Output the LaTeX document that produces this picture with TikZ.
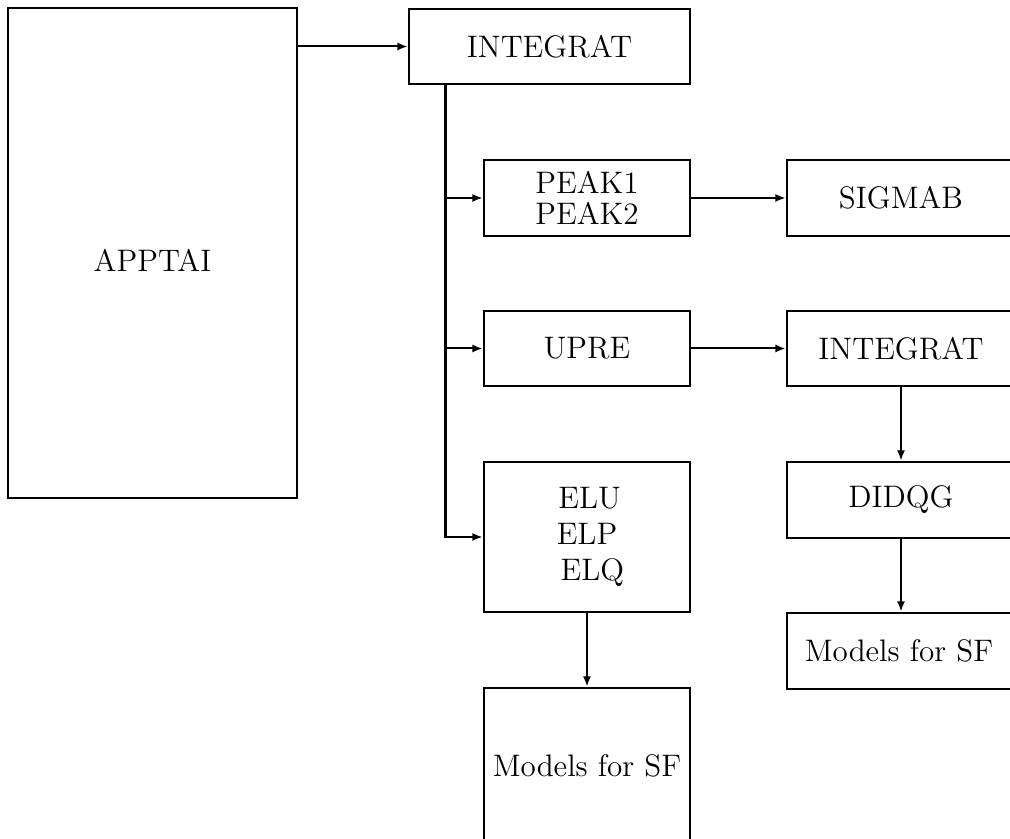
\documentclass[tikz,border=0pt]{standalone}
\usetikzlibrary{arrows.meta,calc}
\newdimen\pxu
\pxu=0.0131cm
\begin{document}
\begin{tikzpicture}[x=0.0131cm, y=-0.0131cm,
  font=\fontsize{11.6}{13.5}\selectfont,
  box/.style={draw, line width=1.0pt, rectangle, inner sep=0pt, align=center},
  arr/.style={line width=0.75pt, -{Latex[length=3.8pt,width=3pt]}},
  heavy/.style={line width=1.05pt}]
  \useasboundingbox (0,0) rectangle (1010,839);
  \clip (0,0) rectangle (1010,839);

  % left block and the main branch
  \node[box, minimum width=289\pxu, minimum height=490\pxu,
        label={[yshift=-7\pxu]center:APPTAI}] (app) at (152.5,253) {};
  \node[box, minimum width=281\pxu, minimum height=75\pxu] (int1) at (549.5,46.5) {INTEGRAT};

  % middle column
  \node[box, minimum width=206\pxu, minimum height=76\pxu] (peak) at (587,198) {PEAK1\\[-2pt]PEAK2};
  \node[box, minimum width=206\pxu, minimum height=75\pxu] (upre) at (587,348.5) {UPRE};
  \node[box, minimum width=206\pxu, minimum height=150\pxu] (elu) at (587,537) {\hspace*{2pt}ELU\\ELP\hspace*{4pt}\\\hspace*{4pt}ELQ};
  \node[box, minimum width=206\pxu, minimum height=156\pxu] (msf2) at (587,766) {Models for SF};

  % right column
  \node[box, minimum width=228\pxu, minimum height=76\pxu] (sig) at (901,198) {SIGMAB};
  \node[box, minimum width=228\pxu, minimum height=75\pxu] (int2) at (901,348.5) {INTEGRAT};
  \node[box, minimum width=228\pxu, minimum height=76\pxu] (did) at (901,500) {DIDQG};
  \node[box, minimum width=228\pxu, minimum height=76\pxu] (msf1) at (901,651) {\hspace*{-4\pxu}Models for SF};

  % connectors
  \draw[arr] (app.north east |- int1.west) -- (int1.west);
  \coordinate (trunk) at ($(int1.south west)+(38,0)$);
  \draw[heavy] (trunk) |- ($(elu.west)+(-10,0)$);
  \draw[arr] ($(elu.west)+(-10.5,0)$) -- (elu.west);
  \draw[arr] (trunk |- peak.west) -- (peak.west);
  \draw[arr] (trunk |- upre.west) -- (upre.west);
  \draw[arr] (peak.east) -- (sig.west);
  \draw[arr] (upre.east) -- (int2.west);
  \draw[arr] (int2.south) -- (did.north);
  \draw[arr] (did.south) -- (msf1.north);
  \draw[arr, line width=1.05pt] (elu.south) -- (msf2.north);
\end{tikzpicture}
\end{document}
